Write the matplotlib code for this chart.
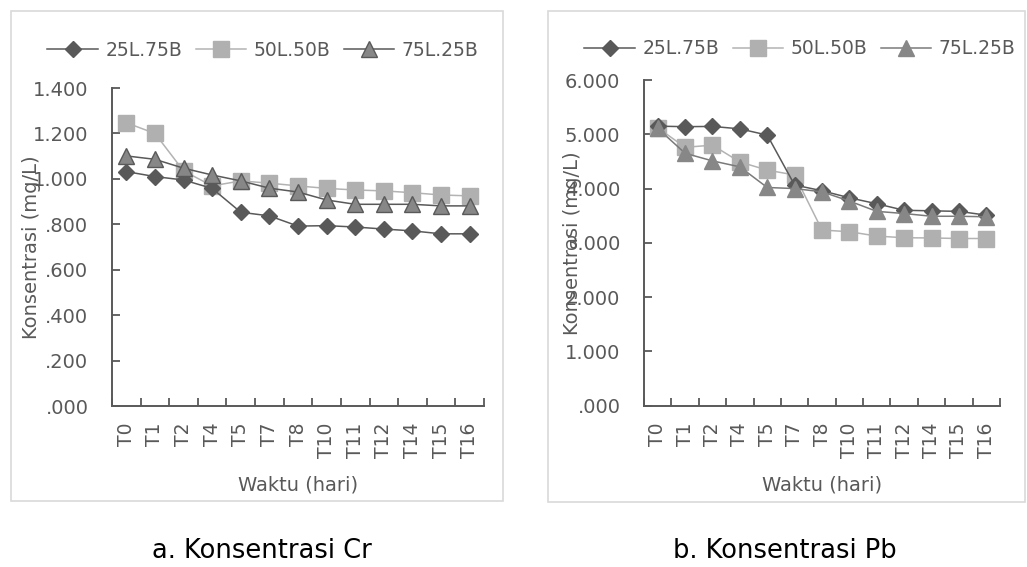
import matplotlib
matplotlib.use("Agg")
import matplotlib.pyplot as plt
from matplotlib.patches import Rectangle
from matplotlib.ticker import FuncFormatter, FixedLocator

categories = ["T0", "T1", "T2", "T4", "T5", "T7", "T8", "T10", "T11", "T12", "T14", "T15", "T16"]
series_names = ["25L.75B", "50L.50B", "75L.25B"]

cr_25L75B = [1.032, 1.010, 0.995, 0.958, 0.853, 0.837, 0.792, 0.794, 0.788, 0.779, 0.771, 0.758, 0.758]
cr_50L50B = [1.247, 1.200, 1.035, 0.969, 0.991, 0.981, 0.969, 0.958, 0.951, 0.947, 0.939, 0.929, 0.925]
cr_75L25B = [1.101, 1.086, 1.047, 1.017, 0.991, 0.959, 0.942, 0.907, 0.888, 0.888, 0.888, 0.881, 0.881]

pb_25L75B = [5.150, 5.140, 5.145, 5.100, 4.985, 4.065, 3.960, 3.830, 3.720, 3.600, 3.590, 3.580, 3.510]
pb_50L50B = [5.120, 4.760, 4.800, 4.490, 4.340, 4.250, 3.236, 3.205, 3.125, 3.094, 3.090, 3.080, 3.080]
pb_75L25B = [5.110, 4.650, 4.510, 4.400, 4.020, 4.000, 3.940, 3.770, 3.580, 3.540, 3.490, 3.490, 3.480]

cr_yticks = [0.0, 0.2, 0.4, 0.6, 0.8, 1.0, 1.2, 1.4]
pb_yticks = [0.0, 1.0, 2.0, 3.0, 4.0, 5.0, 6.0]

xlabel = "Waktu (hari)"
ylabel = "Konsentrasi (mg/L)"
captions = ["a. Konsentrasi Cr", "b. Konsentrasi Pb"]

TXT = "#595959"
W, H = 1027, 567
fig = plt.figure(figsize=(W / 100, H / 100), dpi=100)
plt.rcParams['font.family'] = ['DejaVu Sans']


def fmt(v, pos=None):
    s = f"{v:.3f}"
    if s.startswith("0"):
        s = s[1:]
    return s


def px(x0, y0, x1, y1):
    return [x0 / W, 1 - y1 / H, (x1 - x0) / W, (y1 - y0) / H]


def draw(rect_ax, panel, data, yticks, tri_edge, legend_center, caption, cap_x, ylab_x):
    fig.patches.append(Rectangle((panel[0] / W, 1 - panel[3] / H),
                                 (panel[2] - panel[0]) / W, (panel[3] - panel[1]) / H,
                                 transform=fig.transFigure, fill=False,
                                 edgecolor="#d9d9d9", linewidth=1.2))
    ax = fig.add_axes(px(*rect_ax))
    x = list(range(len(categories)))
    l1, = ax.plot(x, data[0], color="#595959", lw=1.1, marker="D", ms=8.5,
                  mfc="#595959", mec="#595959", label=series_names[0], zorder=3)
    l2, = ax.plot(x, data[1], color="#b3b3b3", lw=1.1, marker="s", ms=11,
                  mfc="#b0b0b0", mec="#b0b0b0", label=series_names[1], zorder=2)
    l3, = ax.plot(x, data[2], color=tri_edge[0], lw=1.1, marker="^", ms=11,
                  mfc="#878787", mec=tri_edge[1], mew=1.0, label=series_names[2], zorder=4)
    ax.set_xlim(-0.5, len(categories) - 0.5)
    ax.set_ylim(yticks[0], yticks[-1])
    ax.set_yticks(yticks)
    ax.yaxis.set_major_formatter(FuncFormatter(fmt))
    ax.set_xticks(x)
    ax.set_xticklabels(categories, rotation=90)
    ax.xaxis.set_minor_locator(FixedLocator([i - 0.5 for i in range(len(categories) + 1)]))
    ax.tick_params(axis="x", which="major", length=0, pad=12, labelsize=13.5, labelcolor=TXT)
    ax.tick_params(axis="x", which="minor", length=6, width=1.3, direction="in", color="#595959")
    ax.tick_params(axis="y", which="major", length=6, width=1.3, direction="in", color="#595959",
                   labelsize=14, labelcolor=TXT, pad=17)
    for s in ["top", "right"]:
        ax.spines[s].set_visible(False)
    for s in ["left", "bottom"]:
        ax.spines[s].set_color("#595959")
        ax.spines[s].set_linewidth(1.4)
    ax.patch.set_alpha(0)
    ax.set_xlabel(xlabel, fontsize=14, color=TXT)
    ax.xaxis.set_label_coords(0.5, -(485 - rect_ax[3]) / (rect_ax[3] - rect_ax[1]))
    ax.xaxis.label.set_va("center")
    ax.set_ylabel(ylabel, fontsize=14, color=TXT)
    ax.yaxis.set_label_coords((ylab_x - rect_ax[0]) / (rect_ax[2] - rect_ax[0]), 0.5)
    ax.yaxis.label.set_va("center")
    fig.legend(handles=[l1, l2, l3], loc="center", bbox_to_anchor=legend_center,
               ncol=3, frameon=False, fontsize=13.5, labelcolor=TXT,
               handlelength=2.7, handletextpad=0.4, columnspacing=0.7)
    fig.text(cap_x / W, 1 - 551 / H, caption, ha="center", va="center", fontsize=18.5, color="black")
    return ax


draw((112, 88, 484, 406), (11, 11, 503, 501), [cr_25L75B, cr_50L50B, cr_75L25B], cr_yticks,
     ("#595959", "#595959"), (263 / W, 1 - 50 / H), captions[0], 262, 32)
draw((644, 80, 1000, 405.7), (548, 11, 1025, 502), [pb_25L75B, pb_50L50B, pb_75L25B], pb_yticks,
     ("#7a7a7a", "#878787"), (800 / W, 1 - 49 / H), captions[1], 785, 572)

fig.savefig("out.png", dpi=100, facecolor="white")
